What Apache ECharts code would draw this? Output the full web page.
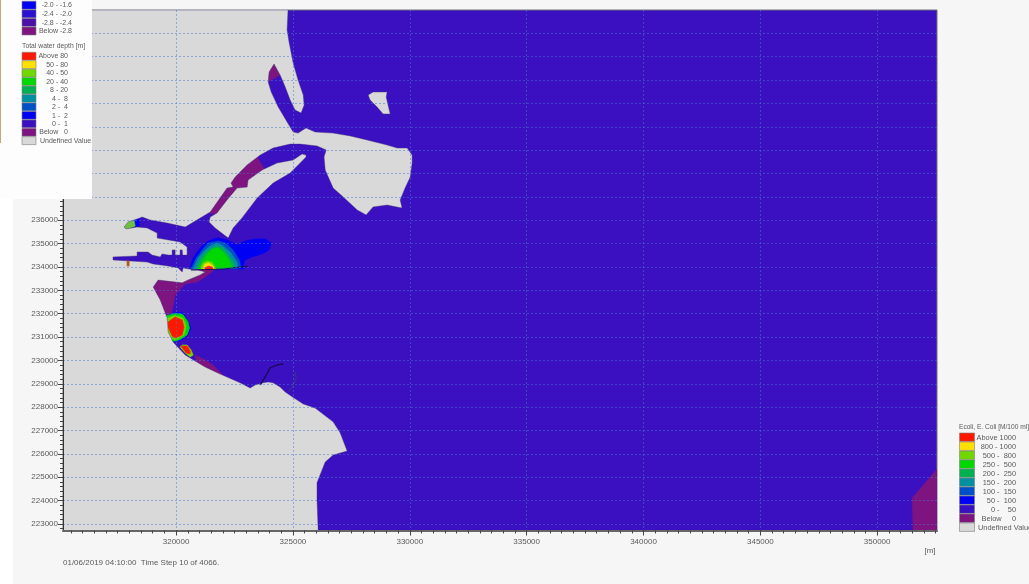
<!DOCTYPE html>
<html>
<head>
<meta charset="utf-8">
<style>html,body{margin:0;padding:0;background:#f6f6f6}#c{width:1029px;height:584px}</style>
<script src="https://cdn.jsdelivr.net/npm/echarts@6/dist/echarts.min.js"></script>
</head>
<body>
<div id="c"></div>
<script>
var xMin = 315160, xMax = 352560, yMin = 222720, yMax = 245000;
var xTickLabels = [320000, 325000, 330000, 335000, 340000, 345000, 350000];
var yTickLabels = [223000,224000,225000,226000,227000,228000,229000,230000,231000,232000,233000,234000,235000,236000,237000,238000,239000,240000,241000,242000,243000,244000];
var stamp = '01/06/2019 04:10:00  Time Step 10 of 4066.';

var colors = {water:'#3a10c0', land:'#d9d9d9', below:'#7d1480', c50:'#0000f5', c100:'#0050c8', c150:'#0090a0', c200:'#00b050', c250:'#00d800', c500:'#70d800', c800:'#ffe000', c1000:'#ff1800'};

var ecoliTitle = 'Ecoli, E. Coli [M/100 ml]';
var ecoliLabels = ['Above 1000','800 - 1000','500 -  800','250 -  500','200 -  250','150 -  200','100 -  150','50 -  100','0 -    50','Below     0','Undefined Value'];
var depthTitle = 'Total water depth [m]';
var depthLabels = ['Above 80','50 - 80','40 - 50','20 - 40','8 - 20','4 -  8','2 -  4','1 -  2','0 -  1','Below   0','Undefined Value'];
var topLabels = ['-2.0 - -1.6','-2.4 - -2.0','-2.8 - -2.4','Below -2.8'];
var scaleColors = ['#ff1800','#ffe000','#70d800','#00d800','#00b050','#0090a0','#0050c8','#0000f5','#3a10c0','#7d1480','#d9d9d9'];
var topColors = ['#0000f5','#2a10d0','#4a10a8','#7d1480'];

var westLand = [[324790,245000],[324750,244140],[324840,243590],[325010,242730],[325220,242000],[325440,241360],[325480,240930],[325350,240590],[325090,240720],[324880,241150],[324670,241700],[324450,242220],[324190,242690],[323980,242350],[323940,241920],[324070,241490],[324370,240850],[324750,240210],[325010,239780],[325220,239730],[325560,239950],[325950,239780],[326720,239730],[327450,239610],[328170,239440],[329030,239220],[329460,239090],[329890,239090],[330100,238790],[330100,238450],[330020,237850],[329800,237380],[329590,236870],[329670,236520],[329030,236650],[328430,236570],[328130,236230],[327750,236440],[327150,237000],[326720,237380],[326380,238150],[326330,238710],[326420,239010],[326030,239180],[325310,239260],[324880,239260],[324150,239090],[323600,238790],[323040,238370],[322530,237850],[322350,237590],[322440,237420],[322180,237380],[321880,236950],[321460,236350],[320390,235710],[319620,235880],[318890,236010],[318550,236140],[318330,236050],[317950,235930],[317770,235710],[317860,235630],[318330,235710],[318760,235670],[319190,235450],[319190,235240],[320170,235070],[320470,234860],[320470,234510],[320280,234510],[320260,234730],[320170,234730],[320170,234510],[319960,234510],[319960,234730],[319830,234730],[319830,234510],[319660,234510],[319400,234560],[319320,234430],[318970,234510],[318800,234640],[318330,234640],[318330,234470],[317300,234430],[317300,234300],[318030,234260],[318760,234210],[319020,234130],[319660,234040],[320090,233960],[320260,233790],[320300,233960],[320680,233890],[320940,233870],[321240,233790],[321030,233660],[320510,233440],[320260,233320],[319230,233440],[319020,233140],[319320,232590],[319620,231820],[319660,231220],[319870,230790],[320390,230230],[320810,229980],[321240,229720],[321880,229420],[322740,229040],[323170,228820],[323380,228950],[323720,229040],[323940,229080],[324150,229040],[324450,228860],[324670,228650],[324970,228440],[325440,228140],[325950,227960],[326720,227370],[327020,226900],[327320,226120],[326720,225950],[326380,225650],[326030,224760],[326030,224030],[326080,222720],[315160,222720],[315160,245000]];
var spitIsland = [[325560,238790],[325390,238840],[325010,238580],[324320,238450],[323680,238150],[323080,237720],[323040,237420],[322610,237380],[322180,236870],[321750,236310],[321460,236140],[321410,235930],[321670,235670],[322230,235240],[322440,235670],[322820,236100],[323470,236950],[324150,237590],[324880,238020],[325310,238450],[325560,238710]];
var smallIsland = [[328220,241360],[328430,241490],[329030,241490],[328990,241280],[329160,240550],[328860,240550],[328600,240850],[328300,241150]];

var belowNorth = [[324190,242860],[323680,242220],[323680,241790],[324450,242220],[324670,242860]];
var belowChannel = [[323420,238790],[323850,238070],[323170,237300],[322100,236650],[321710,236270],[321240,236350],[322100,237720],[322740,238370]];
var belowCoast = [[318890,233660],[320600,233530],[319960,232800],[319790,231950],[319530,231650],[318890,231730]];
var belowStrip = [[320090,233230],[320900,233360],[321240,233570],[321580,233830],[321240,233960],[320510,233660]];
var belowSouth = [[320810,230230],[321240,230020],[321580,229800],[322050,229330],[321030,229380]];
var belowCorner = [[352560,225350],[351500,224110],[351540,222720],[352560,222720]];

var harbour50 = [[320600,233960],[320730,234380],[321030,234810],[321370,235110],[321750,235240],[322180,235160],[322610,234940],[322950,235110],[323380,235200],[323810,235200],[324070,235030],[323980,234730],[323680,234560],[323250,234430],[322950,234300],[322870,234000],[322950,233910]];
var harbour100 = [[320640,233910],[320860,234380],[321110,234730],[321370,235030],[321800,235110],[322100,235030],[322440,234730],[322700,234300],[322780,233960]];
var harbour150 = [[320730,233910],[320940,234380],[321200,234680],[321460,234900],[321750,235030],[322010,234900],[322350,234600],[322610,234210],[322650,233960]];
var harbour200 = [[320860,233910],[321070,234380],[321280,234640],[321540,234810],[321750,234900],[322010,234810],[322230,234510],[322440,234210],[322530,233960]];
var harbour250 = [[320940,233910],[321160,234300],[321370,234600],[321580,234770],[321800,234810],[322010,234640],[322230,234380],[322400,233960]];
var harbour500 = [[321070,233910],[321070,234000],[321160,234170],[321330,234260],[321540,234210],[321670,234000],[321710,233910]];
var harbour800 = [[321160,233910],[321160,234000],[321240,234130],[321410,234170],[321580,234040],[321630,233910]];
var harbour1000 = [[321240,233870],[321240,233960],[321370,234040],[321540,234000],[321580,233910]];

var beach50 = [[319530,231860],[319960,232070],[320300,232030],[320510,231650],[320640,231390],[320510,231090],[320260,230880],[319870,230790],[319530,231090]];
var beach150 = [[319570,231900],[319960,232030],[320260,231990],[320470,231650],[320580,231390],[320470,231130],[320210,230920],[319870,230830],[319530,231090]];
var beach250 = [[319570,231900],[319960,231990],[320300,231950],[320510,231650],[320560,231390],[320470,231090],[320210,230920],[320000,230830],[319740,230830]];
var beach500 = [[319620,231820],[319960,231920],[320300,231820],[320430,231470],[320340,231090],[320000,230880],[319740,230960],[319570,231390]];
var beach1000 = [[319660,231650],[319960,231860],[320260,231730],[320340,231430],[320260,231090],[319960,230960],[319830,231050],[319660,231430]];

var outfall250 = [[320260,230660],[320470,230660],[320640,230450],[320730,230230],[320600,230150],[320390,230320],[320170,230580]];
var outfall1000 = [[320210,230620],[320470,230620],[320600,230400],[320600,230280],[320430,230320]];

var tipBlue = [[318200,236050],[318420,236050],[318420,235750],[318200,235710]];
var tipLime = [[317730,235630],[317860,235930],[318200,236010],[318250,235750],[317950,235630]];
var harbourDot = [[317900,234260],[317990,234260],[317990,234040],[317900,234040]];

var arcWest = [[323600,228950],[323810,229290],[324020,229680],[324320,229800],[324580,229850]];
var arcEast = [[325090,229510],[325140,229250],[324970,228860],[324790,228650]];
var breakwater = [[320640,233870],[322010,233910],[323080,234040]];

var landEdge = 'rgba(70,50,120,0.55)';
var layers = [
 [belowNorth,colors.below],[belowChannel,colors.below],[belowCoast,colors.below],[belowStrip,colors.below],[belowSouth,colors.below],[belowCorner,colors.below],
 [harbour50,colors.c50],[harbour100,colors.c100],[harbour150,colors.c150],[harbour200,colors.c200],[harbour250,colors.c250],[harbour500,colors.c500],[harbour800,colors.c800],[harbour1000,colors.c1000],
 [beach50,colors.c50],[beach150,colors.c150],[beach250,colors.c250],[beach500,colors.c500],[beach1000,colors.c1000],
 [outfall250,colors.c500],[outfall1000,colors.c1000],
 [tipBlue,colors.c50],[tipLime,'#70c040'],
 [westLand,colors.land,landEdge],[spitIsland,colors.land,landEdge],[smallIsland,colors.land,landEdge],[harbourDot,'#b05a20']
];

function range(a,b,s){var r=[];for(var v=a;v<=b;v+=s)r.push(v);return r;}
var font='"Liberation Sans",Arial,sans-serif', txt='#5a5a5a';
var gridPos={left:63,top:10,width:874,height:520.5};
var splitStyle={show:true,lineStyle:{color:'rgba(70,120,210,0.5)',width:1,type:[2,2]}};

var g=[];
g.push({type:'rect',z:50,shape:{x:0,y:0,width:92,height:199},style:{fill:'#fdfdfd'}});
g.push({type:'rect',z:50,shape:{x:0,y:199,width:13,height:385},style:{fill:'#ffffff'}});
g.push({type:'rect',z:51,shape:{x:0,y:0,width:1,height:143},style:{fill:'#c2a878'}});
function t(x,y,s,align,size){g.push({type:'text',z:52,x:x,y:y,style:{text:s,fill:txt,font:(size||7)+'px '+font,textAlign:align||'left',textVerticalAlign:'middle'}});}
function scale(labels,cols,x0,y0,dy,w,tx,tr,sz){
  labels.forEach(function(l,i){
    g.push({type:'rect',z:52,shape:{x:x0,y:y0+i*dy-dy/2,width:w,height:dy-0.6},style:{fill:cols[i],stroke:'#808080',lineWidth:0.6}});
    if(l==='Undefined Value')t(tx,y0+i*dy,l,'left',sz);else t(tr,y0+i*dy,l,'right',sz);
  });
}
scale(topLabels,topColors,22,5.5,8.6,14,40,72,7);
t(22,46,depthTitle,'left',6.8);
scale(depthLabels,scaleColors,22,56.5,8.45,14,40,68,7);
t(959,427,ecoliTitle,'left',6.6);
scale(ecoliLabels,scaleColors,959.5,437.5,9,15,978,1016,7.4);
t(63,563,stamp,'left',8);
t(930,551,'[m]','center',8);

var chart=echarts.init(document.getElementById('c'));
chart.setOption({
  animation:false,
  backgroundColor:'#f6f6f6',
  grid:{left:gridPos.left,top:gridPos.top,width:gridPos.width,height:gridPos.height,show:true,backgroundColor:colors.water,borderColor:'#6e6e78',borderWidth:1},
  xAxis:[
   {type:'value',min:xMin,max:xMax,z:10,position:'bottom',
    axisLine:{onZero:false,show:true,lineStyle:{color:'#666',width:2}},
    axisTick:{show:true,length:5,customValues:xTickLabels,lineStyle:{color:'#444'}},
    axisLabel:{customValues:xTickLabels,formatter:function(v){return String(v);},color:txt,fontSize:8,fontFamily:'Liberation Sans',margin:7},
    splitLine:splitStyle},
   {type:'value',min:xMin,max:xMax,z:10,position:'bottom',
    axisLine:{show:false},axisLabel:{show:false},splitLine:{show:false},
    axisTick:{show:true,length:3,customValues:range(315500,352500,500),lineStyle:{color:'#444'}}}
  ],
  yAxis:[
   {type:'value',min:yMin,max:yMax,z:10,position:'left',
    axisLine:{onZero:false,show:true,lineStyle:{color:'#333',width:1}},
    axisTick:{show:true,length:5,customValues:yTickLabels,lineStyle:{color:'#444'}},
    axisLabel:{customValues:yTickLabels,formatter:function(v){return String(v);},color:txt,fontSize:8,fontFamily:'Liberation Sans',margin:5},
    splitLine:splitStyle},
   {type:'value',min:yMin,max:yMax,z:10,position:'left',
    axisLine:{show:false},axisLabel:{show:false},splitLine:{show:false},
    axisTick:{show:true,length:3,customValues:range(222800,244800,200),lineStyle:{color:'#444'}}}
  ],
  series:[
   {type:'custom',clip:true,coordinateSystem:'cartesian2d',xAxisIndex:0,yAxisIndex:0,silent:true,
    data:layers.map(function(l){return l[0][0];}),
    renderItem:function(p,api){
      var l=layers[p.dataIndex];
      return {type:'polygon',shape:{points:l[0].map(function(q){return api.coord(q);})},style:{fill:l[1],stroke:l[2]||l[1],lineWidth:l[2]?0.8:0.6}};
    }},
   {type:'line',data:arcWest,showSymbol:false,silent:true,lineStyle:{color:'#1c0a60',width:1.5}},
   {type:'line',data:arcEast,showSymbol:false,silent:true,lineStyle:{color:'#3a3a70',width:1}},
   {type:'line',data:breakwater,showSymbol:false,silent:true,lineStyle:{color:'#1c0a60',width:1}}
  ],
  graphic:g
});
</script>
</body>
</html>
